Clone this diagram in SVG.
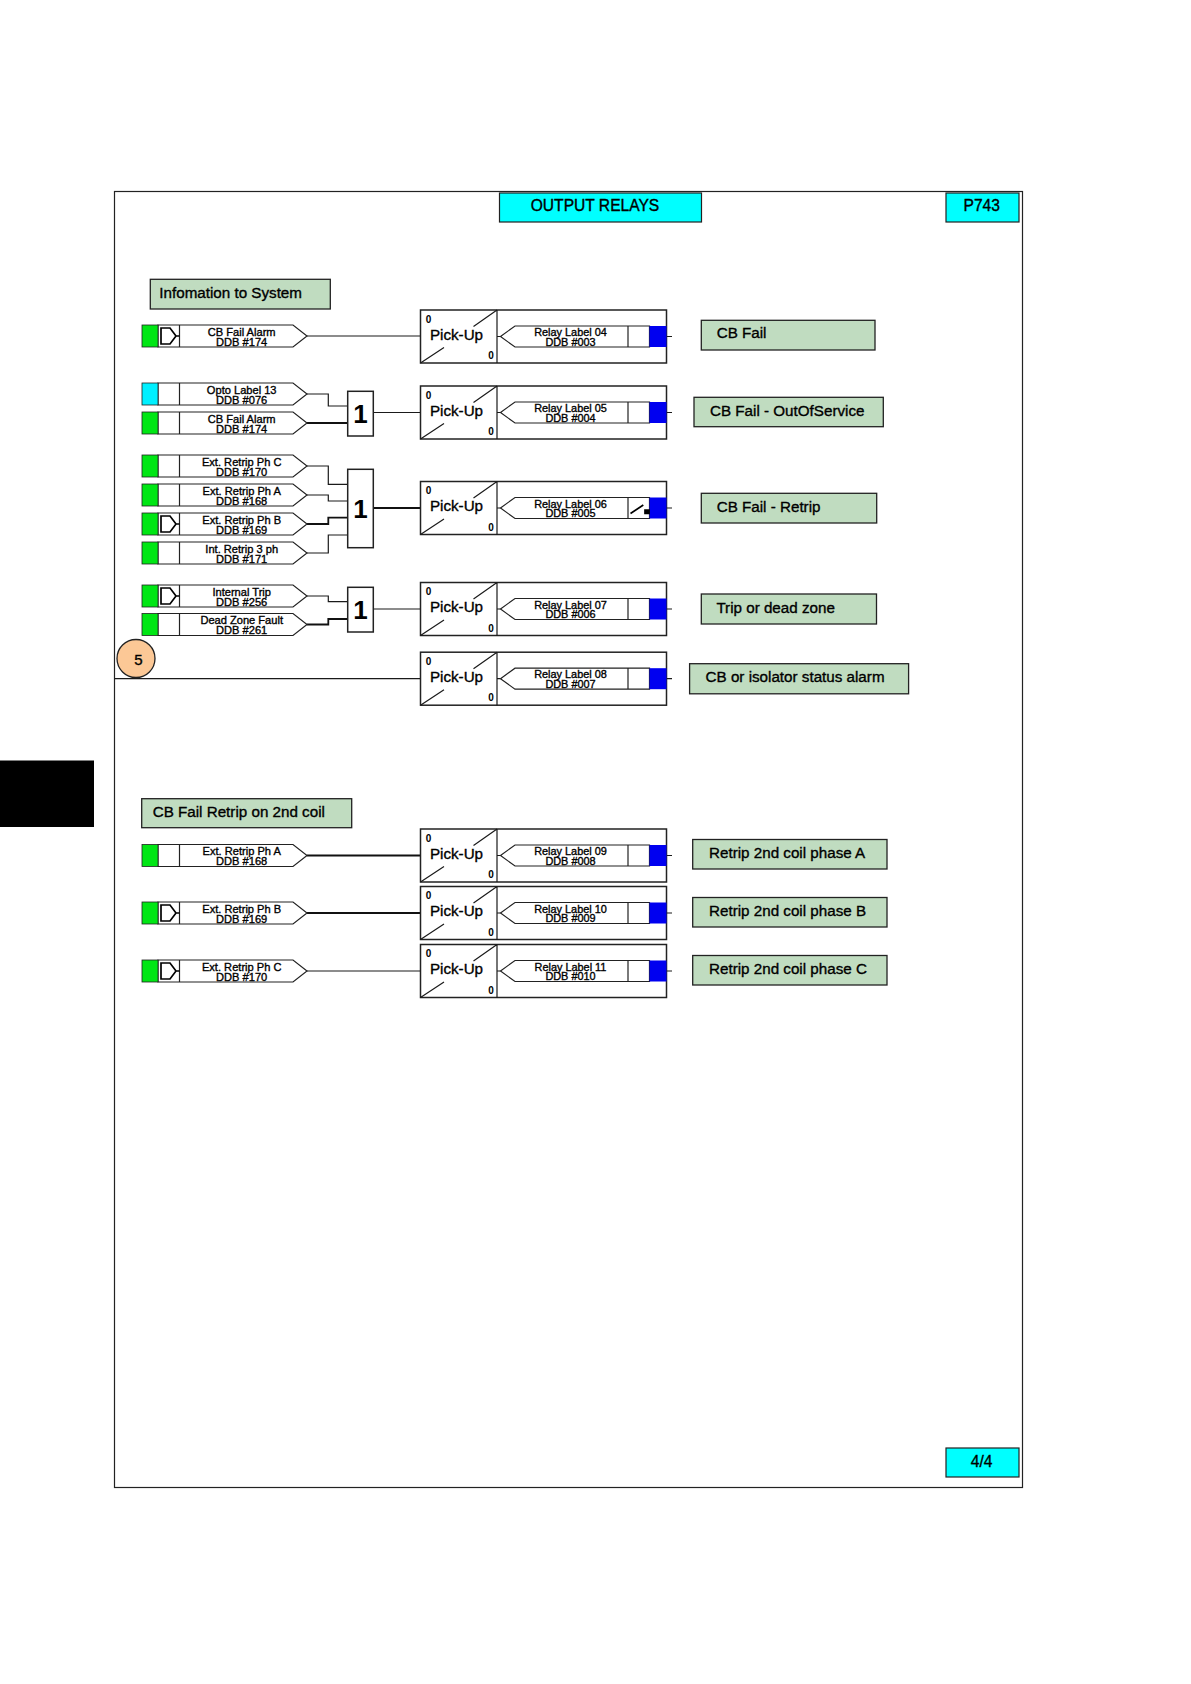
<svg xmlns="http://www.w3.org/2000/svg" xmlns:xlink="http://www.w3.org/1999/xlink" width="1191" height="1684" viewBox="0 0 1191 1684">
<style>
text{font-family:"Liberation Sans",Arial,sans-serif;fill:#000;stroke:#000;stroke-width:.35}
.tag{font-size:10.9px;text-anchor:middle}
g[id^=in-] .tag{font-size:11.1px}
.lab{font-size:15.2px}
.cy{font-size:15.6px;text-anchor:middle}
.pu{font-size:15.2px;text-anchor:middle}
.z{font-size:10px;font-weight:bold;text-anchor:middle;stroke:none}
.one{font-size:26px;font-weight:bold;text-anchor:middle;stroke:none}
.five{font-size:15px;text-anchor:middle}
.ln{fill:none;stroke:#1a1a1a;stroke-width:1.2}
.th{fill:none;stroke:#111;stroke-width:1.8}
.g{fill:#c0dcc0;stroke:#222;stroke-width:1.3}
.c{fill:#00ffff;stroke:#222;stroke-width:1.2}
.b{fill:#fff;stroke:#222;stroke-width:1.5}
</style>
<defs>
<g id="in"><path d="M16 -11H151L165 0L151 11H16Z" fill="#fff" stroke="#222" stroke-width="1.2"/><path d="M37.5 -11V11" stroke="#222" stroke-width="1.2"/></g>
<path id="dd" d="M19 -8H28L34 0L28 8H19ZM34 0H37.5" fill="none" stroke="#000" stroke-width="1.7"/>
<rect id="gr" x="0" y="-11" width="16" height="22" fill="#00e614" stroke="#222" stroke-width=".8"/>
<rect id="cyn" x="0" y="-11" width="16" height="22" fill="#00f0ff" stroke="#222" stroke-width=".8"/>
<g id="pk"><rect x="0" y="-26.5" width="246" height="53" class="b"/><path d="M76.5 -26.5V26.5M0 26.5L23.5 11M53 -10L76.5 -26.5M76.5 0H80M246 0H251.5" class="ln"/><path d="M80 0L94.5 -10.5H229V10.5H94.5ZM207.5 -10.5V10.5" fill="#fff" stroke="#222" stroke-width="1.2"/><rect x="229" y="-10.5" width="17" height="21" fill="#0000f0"/></g>
</defs>
<rect x="0" y="0" width="1191" height="1684" fill="#fff"/>
<rect id="side-tab" x="0" y="760.5" width="94" height="66.5" fill="#000"/>
<rect id="frame" x="114.5" y="191.5" width="908" height="1296" fill="none" stroke="#222" stroke-width="1.2"/>

<g id="connectors">
<path class="ln" d="M307 336H420.5"/>
<path class="ln" d="M307 394H328.3V406H347.7"/>
<path class="th" d="M307 423H347.7"/>
<path class="ln" d="M373.3 412.5H420.5"/>
<path class="ln" d="M307 466H328.3V484.3H347.7"/>
<path class="ln" d="M307 495H328.3V501H347.7"/>
<path class="th" d="M307 524H328.3V517.7H347.7"/>
<path class="ln" d="M307 553H328.3V535H347.7"/>
<path class="th" d="M373.3 508H420.5"/>
<path class="ln" d="M307 596H328.3V601.7H347.7"/>
<path class="th" d="M307 624.5H328.3V619H347.7"/>
<path class="ln" d="M373.3 609H420.5"/>
<path class="ln" d="M114.5 678.7H420.5"/>
<path class="th" d="M307 855.5H420.5"/>
<path class="th" d="M307 913H420.5"/>
<path class="ln" d="M307 971H420.5"/>
</g>

<g id="title"><rect x="499.5" y="193" width="202" height="29" class="c"/><text class="cy" x="595" y="211">OUTPUT RELAYS</text></g>
<g id="model"><rect x="946" y="193" width="73" height="29" class="c"/><text class="cy" x="981.7" y="211">P743</text></g>
<g id="page"><rect x="946" y="1448" width="73" height="29" class="c"/><text class="cy" x="981.7" y="1466.5">4/4</text></g>

<g id="hdr-info"><rect x="150.3" y="279.3" width="180" height="29.7" class="g"/><text class="lab" x="159.3" y="298.3">Infomation to System</text></g>
<g id="hdr-2nd"><rect x="141.7" y="798.7" width="210" height="29" class="g"/><text class="lab" x="152.7" y="816.7">CB Fail Retrip on 2nd coil</text></g>

<g id="in-1" transform="translate(142 336)"><use href="#in"/><use href="#gr"/><use href="#dd"/><text class="tag" x="99.7" y="-.5">CB Fail Alarm</text><text class="tag" x="99.7" y="9.5">DDB #174</text></g>
<g id="in-2" transform="translate(142 394)"><use href="#in"/><use href="#cyn"/><text class="tag" x="99.7" y="-.5">Opto Label 13</text><text class="tag" x="99.7" y="9.5">DDB #076</text></g>
<g id="in-3" transform="translate(142 423)"><use href="#in"/><use href="#gr"/><text class="tag" x="99.7" y="-.5">CB Fail Alarm</text><text class="tag" x="99.7" y="9.5">DDB #174</text></g>
<g id="in-4" transform="translate(142 466)"><use href="#in"/><use href="#gr"/><text class="tag" x="99.7" y="-.5">Ext. Retrip Ph C</text><text class="tag" x="99.7" y="9.5">DDB #170</text></g>
<g id="in-5" transform="translate(142 495)"><use href="#in"/><use href="#gr"/><text class="tag" x="99.7" y="-.5">Ext. Retrip Ph A</text><text class="tag" x="99.7" y="9.5">DDB #168</text></g>
<g id="in-6" transform="translate(142 524)"><use href="#in"/><use href="#gr"/><use href="#dd"/><text class="tag" x="99.7" y="-.5">Ext. Retrip Ph B</text><text class="tag" x="99.7" y="9.5">DDB #169</text></g>
<g id="in-7" transform="translate(142 553)"><use href="#in"/><use href="#gr"/><text class="tag" x="99.7" y="-.5">Int. Retrip 3 ph</text><text class="tag" x="99.7" y="9.5">DDB #171</text></g>
<g id="in-8" transform="translate(142 596)"><use href="#in"/><use href="#gr"/><use href="#dd"/><text class="tag" x="99.7" y="-.5">Internal Trip</text><text class="tag" x="99.7" y="9.5">DDB #256</text></g>
<g id="in-9" transform="translate(142 624.5)"><use href="#in"/><use href="#gr"/><text class="tag" x="99.7" y="-.5">Dead Zone Fault</text><text class="tag" x="99.7" y="9.5">DDB #261</text></g>
<g id="in-10" transform="translate(142 855.5)"><use href="#in"/><use href="#gr"/><text class="tag" x="99.7" y="-.5">Ext. Retrip Ph A</text><text class="tag" x="99.7" y="9.5">DDB #168</text></g>
<g id="in-11" transform="translate(142 913)"><use href="#in"/><use href="#gr"/><use href="#dd"/><text class="tag" x="99.7" y="-.5">Ext. Retrip Ph B</text><text class="tag" x="99.7" y="9.5">DDB #169</text></g>
<g id="in-12" transform="translate(142 971)"><use href="#in"/><use href="#gr"/><use href="#dd"/><text class="tag" x="99.7" y="-.5">Ext. Retrip Ph C</text><text class="tag" x="99.7" y="9.5">DDB #170</text></g>

<g id="or-1"><rect x="347.7" y="391.3" width="25.6" height="44.7" class="b"/><text class="one" x="360.5" y="423">1</text></g>
<g id="or-2"><rect x="347.7" y="469.3" width="25.6" height="78.4" class="b"/><text class="one" x="360.5" y="518">1</text></g>
<g id="or-3"><rect x="347.7" y="587.3" width="25.6" height="44.7" class="b"/><text class="one" x="360.5" y="619">1</text></g>

<g id="ref-5"><circle cx="136" cy="658.5" r="19" fill="#fcc896" stroke="#222" stroke-width="1.3"/><text class="five" x="138.5" y="665">5</text></g>

<g id="relay-04" transform="translate(420.5 336.5)"><use href="#pk"/><text class="z" x="8" y="-14">0</text><text class="z" x="70.5" y="22.5">0</text><text class="pu" x="36" y="3">Pick-Up</text><text class="tag" x="150" y="-.5">Relay Label 04</text><text class="tag" x="150" y="9">DDB #003</text></g>
<g id="relay-05" transform="translate(420.5 412.5)"><use href="#pk"/><text class="z" x="8" y="-14">0</text><text class="z" x="70.5" y="22.5">0</text><text class="pu" x="36" y="3">Pick-Up</text><text class="tag" x="150" y="-.5">Relay Label 05</text><text class="tag" x="150" y="9">DDB #004</text></g>
<g id="relay-06" transform="translate(420.5 508)"><use href="#pk"/><path d="M210 5.5L222.8 -3M224.5 2H228.5V5.5H224.5Z" fill="#000" stroke="#000" stroke-width="1.7"/><text class="z" x="8" y="-14">0</text><text class="z" x="70.5" y="22.5">0</text><text class="pu" x="36" y="3">Pick-Up</text><text class="tag" x="150" y="-.5">Relay Label 06</text><text class="tag" x="150" y="9">DDB #005</text></g>
<g id="relay-07" transform="translate(420.5 609)"><use href="#pk"/><text class="z" x="8" y="-14">0</text><text class="z" x="70.5" y="22.5">0</text><text class="pu" x="36" y="3">Pick-Up</text><text class="tag" x="150" y="-.5">Relay Label 07</text><text class="tag" x="150" y="9">DDB #006</text></g>
<g id="relay-08" transform="translate(420.5 678.7)"><use href="#pk"/><text class="z" x="8" y="-14">0</text><text class="z" x="70.5" y="22.5">0</text><text class="pu" x="36" y="3">Pick-Up</text><text class="tag" x="150" y="-.5">Relay Label 08</text><text class="tag" x="150" y="9">DDB #007</text></g>
<g id="relay-09" transform="translate(420.5 855.5)"><use href="#pk"/><text class="z" x="8" y="-14">0</text><text class="z" x="70.5" y="22.5">0</text><text class="pu" x="36" y="3">Pick-Up</text><text class="tag" x="150" y="-.5">Relay Label 09</text><text class="tag" x="150" y="9">DDB #008</text></g>
<g id="relay-10" transform="translate(420.5 913)"><use href="#pk"/><text class="z" x="8" y="-14">0</text><text class="z" x="70.5" y="22.5">0</text><text class="pu" x="36" y="3">Pick-Up</text><text class="tag" x="150" y="-.5">Relay Label 10</text><text class="tag" x="150" y="9">DDB #009</text></g>
<g id="relay-11" transform="translate(420.5 971)"><use href="#pk"/><text class="z" x="8" y="-14">0</text><text class="z" x="70.5" y="22.5">0</text><text class="pu" x="36" y="3">Pick-Up</text><text class="tag" x="150" y="-.5">Relay Label 11</text><text class="tag" x="150" y="9">DDB #010</text></g>

<g id="out-1"><rect x="701.3" y="320.3" width="173.7" height="29.7" class="g"/><text class="lab" x="716.7" y="338">CB Fail</text></g>
<g id="out-2"><rect x="694" y="397.3" width="189.3" height="29.4" class="g"/><text class="lab" x="710" y="415.5">CB Fail - OutOfService</text></g>
<g id="out-3"><rect x="701.3" y="493.3" width="175.4" height="29.7" class="g"/><text class="lab" x="716.7" y="511.5">CB Fail - Retrip</text></g>
<g id="out-4"><rect x="701.3" y="594" width="175.2" height="30" class="g"/><text class="lab" x="716.4" y="613">Trip or dead zone</text></g>
<g id="out-5"><rect x="689.6" y="663.7" width="219" height="30.1" class="g"/><text class="lab" x="705.6" y="682">CB or isolator status alarm</text></g>
<g id="out-6"><rect x="692.7" y="839.5" width="194.3" height="29.5" class="g"/><text class="lab" x="709" y="858">Retrip 2nd coil phase A</text></g>
<g id="out-7"><rect x="692.7" y="897.5" width="194.3" height="29.5" class="g"/><text class="lab" x="709" y="916">Retrip 2nd coil phase B</text></g>
<g id="out-8"><rect x="692.7" y="955.5" width="194.3" height="29.5" class="g"/><text class="lab" x="709" y="974">Retrip 2nd coil phase C</text></g>
</svg>
